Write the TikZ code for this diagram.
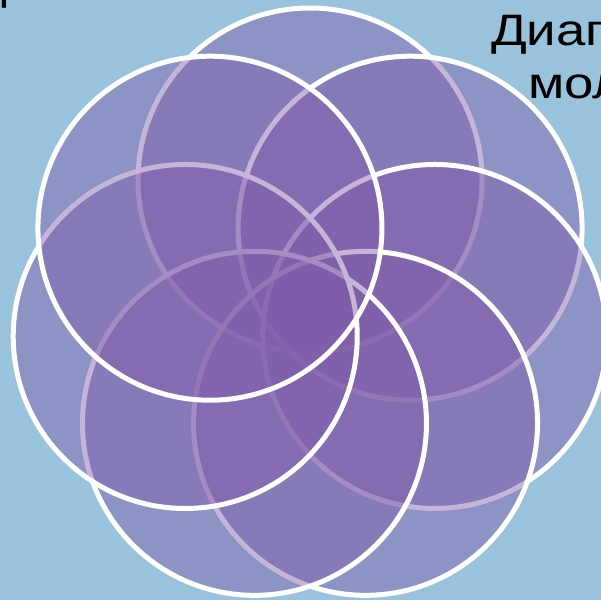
\documentclass[tikz,border=0pt]{standalone}
\usepackage{fontspec}
\setmainfont{Liberation Sans}
\usetikzlibrary{calc}
\definecolor{bgblue}{RGB}{153,194,220}
\definecolor{petal}{RGB}{128,92,170}
\newcommand{\widetext}[1]{\scalebox{1.2}[1]{#1}}
\tikzset{
  petalcircle/.style={fill=petal, fill opacity=0.45, draw=white, line width=5pt},
  slidetext/.style={inner sep=0pt, font=\fontsize{44}{53}\selectfont, text=black}
}
\begin{document}
\begin{tikzpicture}[x=1pt,y=-1pt]
  \useasboundingbox (0,0) rectangle (601,600);
  \fill[bgblue] (0,0) rectangle (601,600);
  % seven overlapping circles, drawn clockwise from the top one
  \foreach \k/\nm in {0/ctop,1/ctopright,2/cright,3/cbotright,4/cbotleft,5/cleft,6/ctopleft}{
    \pgfmathsetmacro{\ang}{-90+\k*360/7}
    \coordinate (\nm) at ($(310,308)+(\ang:128)$);
    \path[petalcircle] (\nm) circle[radius=172];
  }
  % text of the slide, cut by the page edges
  \node[slidetext, anchor=base west] (t1) at (491,45) {\widetext{Диаг}};
  \node[slidetext, anchor=base west] (t2) at (528,98) {\widetext{мол}};
  \node[slidetext, anchor=base east] (t3) at (8,-0.5) {\widetext{ц}};
  \node[slidetext, anchor=base east] (t4) at (0.8,109) {\widetext{к}};
\end{tikzpicture}
\end{document}
